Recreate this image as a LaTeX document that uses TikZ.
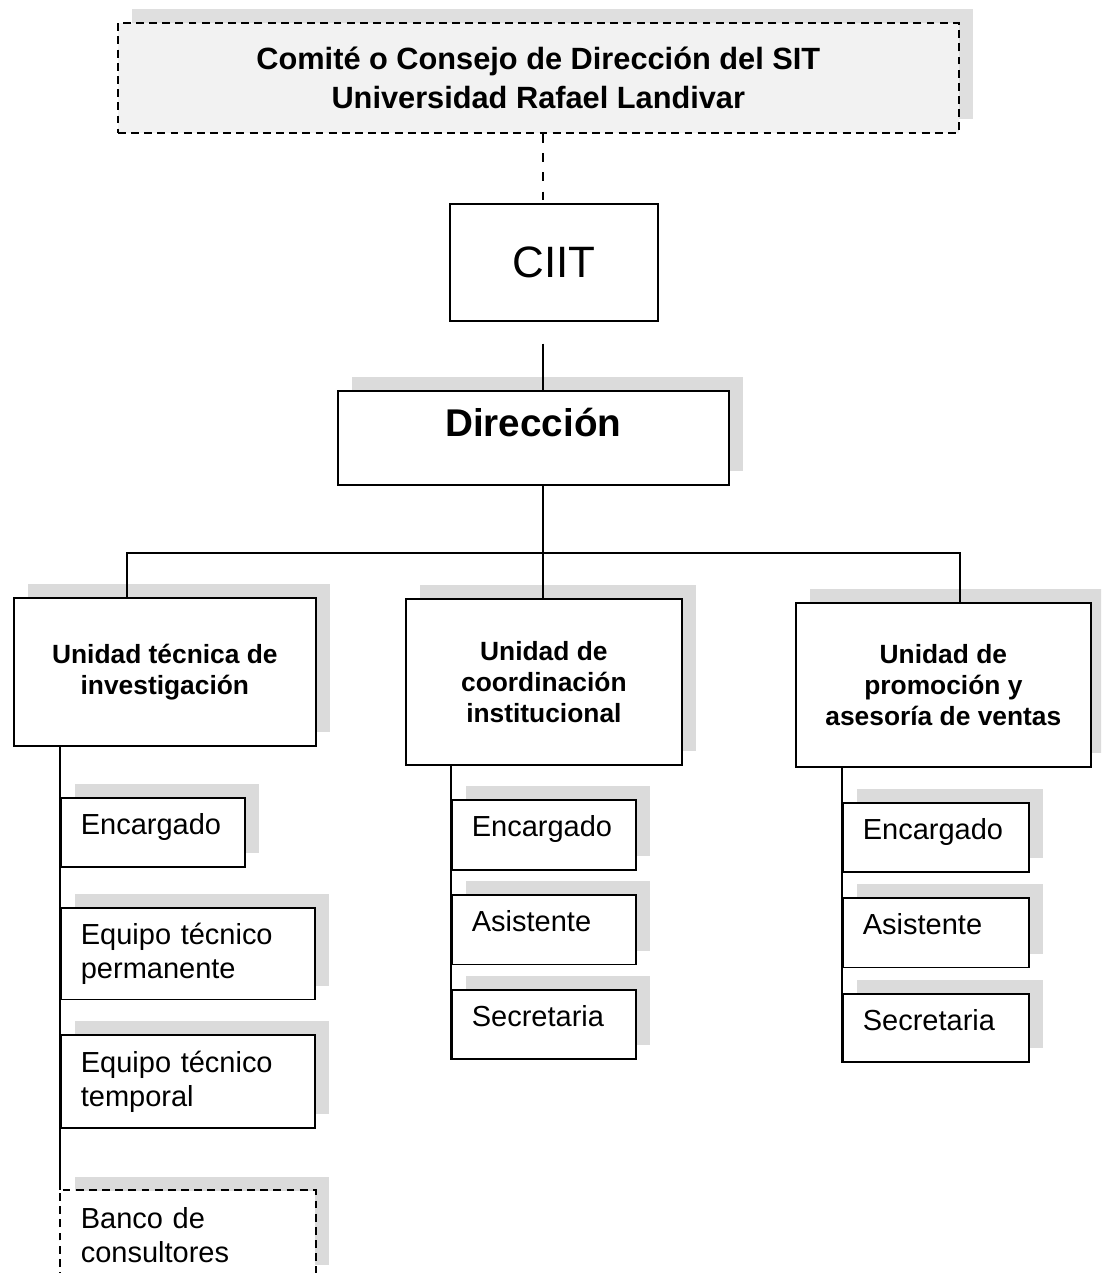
\documentclass[tikz,border=0pt]{standalone}
\usepackage{fontspec}
\setmainfont{Liberation Sans}
\usetikzlibrary{positioning,shadows}

\begin{document}
\begin{tikzpicture}[x=0.02cm, y=-0.02cm, line width=1pt,
    box/.style={rectangle, draw, fill=white, line width=1pt,
        drop shadow={shadow xshift=0.28cm, shadow yshift=0.28cm, fill=gray!28, opacity=1}},
    unitbox/.style={box, align=center, font=\fontsize{15}{17.6}\selectfont\bfseries},
    subbox/.style={box, align=left, inner xsep=0.4cm, font=\fontsize{16.5}{19.3}\selectfont},
    onebox/.style={subbox, text depth=0.35cm}]

    \useasboundingbox (0,0) rectangle (1101,1273);
    \clip (0,0) rectangle (1101,1273);

    % top levels
    \node[box, dashed, dash pattern=on 4.5pt off 3pt, fill=gray!10, anchor=north west,
        minimum width=16.82cm, minimum height=2.2cm, align=center,
        drop shadow={shadow xshift=0.28cm, shadow yshift=0.28cm, fill=gray!25, opacity=1},
        font=\fontsize{17.5}{22.7}\selectfont\bfseries] (sit) at (117,22)
        {Comité o Consejo de Dirección del SIT\\Universidad Rafael Landivar};
    \node[draw, anchor=north west, minimum width=4.16cm, minimum height=2.34cm,
        font=\fontsize{25}{30}\selectfont] (ciit) at (449,203) {CIIT};
    \node[box, anchor=north west, minimum width=7.82cm, minimum height=1.88cm, text depth=0.64cm,
        font=\fontsize{22}{26}\selectfont\bfseries] (dir) at (337,390) {Dirección};

    % units
    \node[unitbox, anchor=north west, minimum width=6.04cm, minimum height=2.96cm] (uti) at (13,597)
        {Unidad técnica de\\investigación};
    \node[unitbox, anchor=north west, minimum width=5.52cm, minimum height=3.32cm] (uci) at (405,598)
        {Unidad de\\coordinación\\institucional};
    \node[unitbox, anchor=north west, minimum width=5.9cm, minimum height=3.28cm] (upv) at (795,602)
        {Unidad de\\promoción y\\asesoría de ventas};

    % investigación
    \node[onebox, anchor=north west, text width=2.88cm, minimum height=1.38cm] (encI) at (60,797) {Encargado};
    \node[subbox, below=0.78cm of encI.south west, anchor=north west, text width=4.28cm, minimum height=1.84cm] (eqP)
        {Equipo técnico\\permanente};
    \node[subbox, below=0.68cm of eqP.south west, anchor=north west, text width=4.28cm, minimum height=1.86cm] (eqT)
        {Equipo técnico\\temporal};
    \node[subbox, draw=none, below=1.22cm of eqT.south west, anchor=north west, text width=4.28cm, minimum height=1.76cm] (banco)
        {Banco de\\consultores};
    \draw[dashed, dash pattern=on 4.5pt off 3pt] (banco.south west) -- (banco.north west) -- (banco.north east) -- (banco.south east);

    % coordinación
    \node[onebox, anchor=north west, text width=2.88cm, minimum height=1.4cm] (encC) at (451,799) {Encargado};
    \node[onebox, below=0.46cm of encC.south west, anchor=north west, text width=2.88cm, minimum height=1.4cm] (asiC) {Asistente};
    \node[onebox, below=0.48cm of asiC.south west, anchor=north west, text width=2.88cm, minimum height=1.38cm] (secC) {Secretaria};

    % promoción
    \node[onebox, anchor=north west, text width=2.92cm, minimum height=1.38cm] (encP) at (842,802) {Encargado};
    \node[onebox, below=0.48cm of encP.south west, anchor=north west, text width=2.92cm, minimum height=1.4cm] (asiP) {Asistente};
    \node[onebox, below=0.5cm of asiP.south west, anchor=north west, text width=2.92cm, minimum height=1.36cm] (secP) {Secretaria};

    % connectors
    \coordinate (spine) at (543,0);
    \coordinate (barL) at (127,553);
    \coordinate (barR) at (960,553);
    \draw[dashed, dash pattern=on 5pt off 6pt] (sit.south -| spine) -- (ciit.north -| spine);
    \draw[shorten <=0.44cm] (ciit.south -| spine) -- (dir.north -| spine);
    \draw (dir.south -| spine) -- (uci.north -| spine);
    \draw (uti.north -| barL) -- (barL) -- (barR) -- (upv.north -| barR);
    \draw (uti.south -| encI.west) -- (banco.north west);
    \draw (uci.south -| encC.west) -- (secC.south west);
    \draw (upv.south -| encP.west) -- (secP.south west);

\end{tikzpicture}
\end{document}
